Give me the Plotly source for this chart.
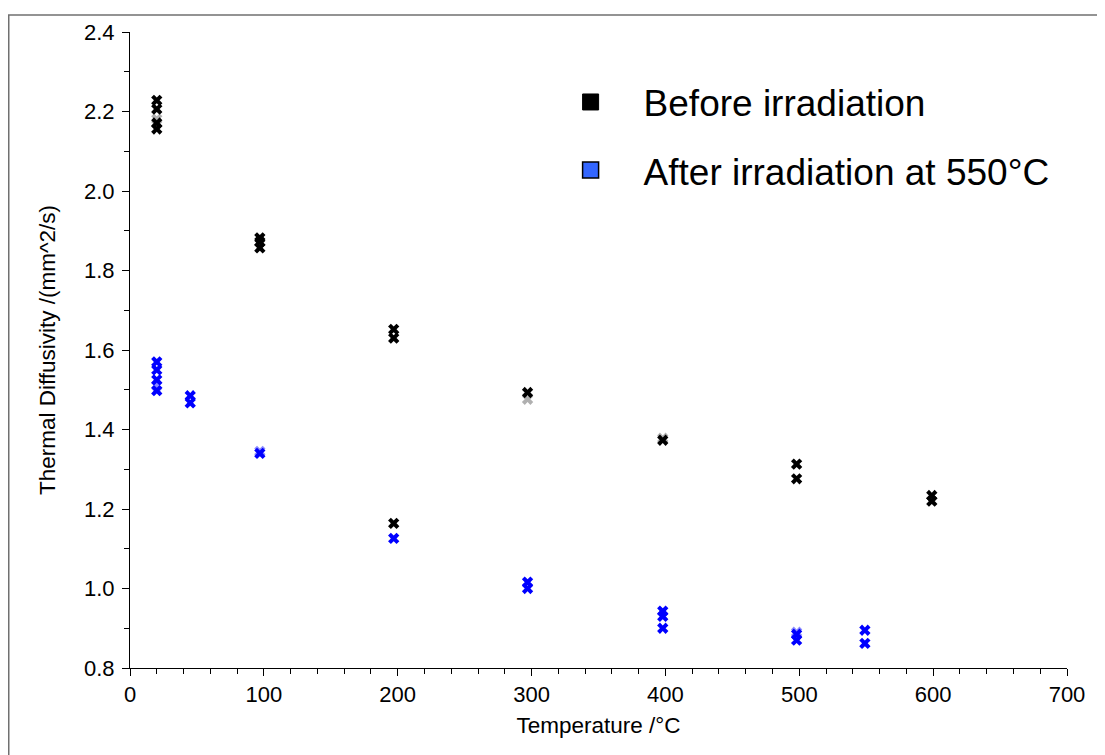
import plotly.graph_objects as go

# Before irradiation (black)
before_T = [20, 20, 20, 20, 97, 97, 97, 197, 197, 197, 297, 398, 498, 498, 599, 599]
before_D = [2.228, 2.206, 2.171, 2.156, 1.882, 1.872, 1.857, 1.652, 1.630, 1.164, 1.493, 1.373, 1.313, 1.276, 1.234, 1.220]
# faint (overlapping) before-irradiation points
before_faint_T = [20, 297, 398]
before_faint_D = [2.181, 1.476, 1.378]

# After irradiation at 550°C (blue)
after_T = [20, 20, 20, 20, 45, 45, 97, 197, 297, 297, 398, 398, 398, 498, 498, 549, 549]
after_D = [1.570, 1.550, 1.525, 1.498, 1.485, 1.467, 1.340, 1.126, 1.016, 1.000, 0.943, 0.930, 0.900, 0.885, 0.870, 0.895, 0.862]
after_faint_T = [20, 97, 498]
after_faint_D = [1.510, 1.345, 0.890]

legend_names = ["Before irradiation", "After irradiation at 550°C"]

fig = go.Figure()

mk = dict(symbol="x", size=10, line=dict(width=0))
fig.add_trace(go.Scatter(x=before_faint_T, y=before_faint_D, mode="markers",
                         marker=dict(color="#b0b0b0", **mk), showlegend=False))
fig.add_trace(go.Scatter(x=after_faint_T, y=after_faint_D, mode="markers",
                         marker=dict(color="#8c8cff", **mk), showlegend=False))
fig.add_trace(go.Scatter(x=before_T, y=before_D, mode="markers",
                         marker=dict(color="#000000", **mk), showlegend=False))
fig.add_trace(go.Scatter(x=after_T, y=after_D, mode="markers",
                         marker=dict(color="#0000ff", **mk), showlegend=False))

# legend entries
fig.add_trace(go.Scatter(x=[None], y=[None], mode="markers", name=legend_names[0],
                         legendgroup="a",
                         marker=dict(symbol="square", size=16, color="#000000",
                                     line=dict(color="#000000", width=1))))
fig.add_trace(go.Scatter(x=[None], y=[None], mode="markers", name=legend_names[1],
                         legendgroup="b",
                         marker=dict(symbol="square", size=16, color="#3366ff",
                                     line=dict(color="#000000", width=1.5))))

font_family = "Liberation Sans, Arial, sans-serif"

L, T, W, H = 122, 18, 937, 642  # plot area in figure coords

fig.update_layout(
    width=1105, height=755,
    margin=dict(l=L, r=1105 - L - W, t=T, b=755 - T - H),
    paper_bgcolor="white", plot_bgcolor="white",
    font=dict(family=font_family, size=22, color="#000000"),
    legend=dict(x=0.435, y=0.938, xanchor="left", yanchor="top",
                font=dict(size=37, family=font_family),
                bgcolor="rgba(0,0,0,0)", itemwidth=96, itemsizing="trace",
                tracegroupgap=17, traceorder="grouped"),
    xaxis=dict(range=[0, 700], tickvals=[0, 100, 200, 300, 400, 500, 600, 700],
               showline=True, linecolor="#000000", linewidth=1,
               ticks="outside", ticklen=7, tickcolor="#000000",
               minor=dict(dtick=20, tick0=0, ticks="outside", ticklen=5, tickcolor="#000000"),
               showgrid=False, zeroline=False,
               tickfont=dict(size=22),
               title=dict(text="Temperature /°C", font=dict(size=22.5), standoff=10)),
    yaxis=dict(range=[0.8, 2.4], tickvals=[0.8, 1.0, 1.2, 1.4, 1.6, 1.8, 2.0, 2.2, 2.4],
               ticktext=["0.8", "1.0", "1.2", "1.4", "1.6", "1.8", "2.0", "2.2", "2.4"],
               showline=True, linecolor="#000000", linewidth=1,
               ticks="outside", ticklen=7, tickcolor="#000000",
               ticklabelstandoff=3,
               minor=dict(dtick=0.1, tick0=0.8, ticks="outside", ticklen=5, tickcolor="#000000"),
               showgrid=False, zeroline=False,
               tickfont=dict(size=22),
               title=dict(text="Thermal Diffusivity /(mm^2/s)", font=dict(size=22.5), standoff=22)),
    shapes=[dict(type="rect", xref="paper", yref="paper",
                 x0=(0.75 - L) / W, x1=(1093 - L) / W,
                 y0=(T + H - 780) / H, y1=(T + H - 0.75) / H,
                 line=dict(color="#707070", width=1.5), fillcolor="rgba(0,0,0,0)",
                 layer="below")],
)

fig.write_html("out.html")
